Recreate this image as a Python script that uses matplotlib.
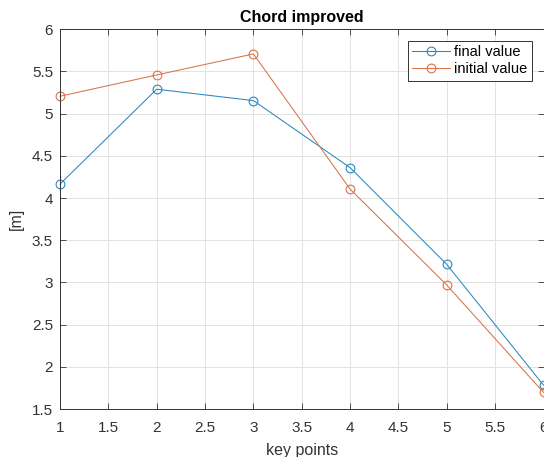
import matplotlib.pyplot as plt
import numpy as np

plt.rcParams['font.family'] = ['Liberation Sans', 'DejaVu Sans']

key_points = [1, 2, 3, 4, 5, 6]
final_value = [4.165, 5.29, 5.155, 4.36, 3.213, 1.783]
initial_value = [5.207, 5.459, 5.708, 4.106, 2.969, 1.697]

blue = '#2a88bd'
orange = '#d6744a'

fig = plt.figure(figsize=(5.44, 4.57), dpi=100)
# the reference image is cropped right at the right-hand spine
ax = fig.add_axes([0.1103, 0.105, 0.8888, 0.8309])
ax.plot(key_points, final_value, '-o', color=blue, lw=0.75, markersize=6.3,
        markerfacecolor='none', markeredgewidth=0.8, label='final value', clip_on=False)
ax.plot(key_points, initial_value, '-o', color=orange, lw=0.75, markersize=6.3,
        markerfacecolor='none', markeredgewidth=0.8, label='initial value', clip_on=False)

ax.set_xlim(1, 6)
ax.set_ylim(1.5, 6)
ax.set_xticks(np.arange(1, 6.01, 0.5))
ax.set_yticks(np.arange(1.5, 6.01, 0.5))
ax.set_xticklabels(['1', '1.5', '2', '2.5', '3', '3.5', '4', '4.5', '5', '5.5', '6'])
ax.set_yticklabels(['1.5', '2', '2.5', '3', '3.5', '4', '4.5', '5', '5.5', '6'])
ax.grid(True, color='#e3e3e3', lw=0.7)
ax.set_axisbelow(True)
ax.tick_params(direction='in', top=True, right=True, labelsize=11, colors='#333333',
               length=4, width=0.6)
ax.tick_params(axis='x', pad=8.5)
ax.tick_params(axis='y', pad=5)
for s in ax.spines.values():
    s.set_color('#333333')
    s.set_linewidth(0.7)

ax.set_title('Chord improved', fontsize=11.5, fontweight='bold', pad=5)
ax.set_xlabel('key points', fontsize=11.5, labelpad=6, color='#333333')
ax.set_ylabel('[m]', fontsize=11.5, labelpad=6, color='#333333')

leg = ax.legend(loc='upper right', fontsize=10.5, fancybox=False, framealpha=1,
                edgecolor='#333333', borderaxespad=0.8, handlelength=2.6,
                borderpad=0.3, labelspacing=0.2, handletextpad=0.3)
leg.get_frame().set_linewidth(0.7)

plt.savefig('out.png', dpi=100, facecolor='white')
